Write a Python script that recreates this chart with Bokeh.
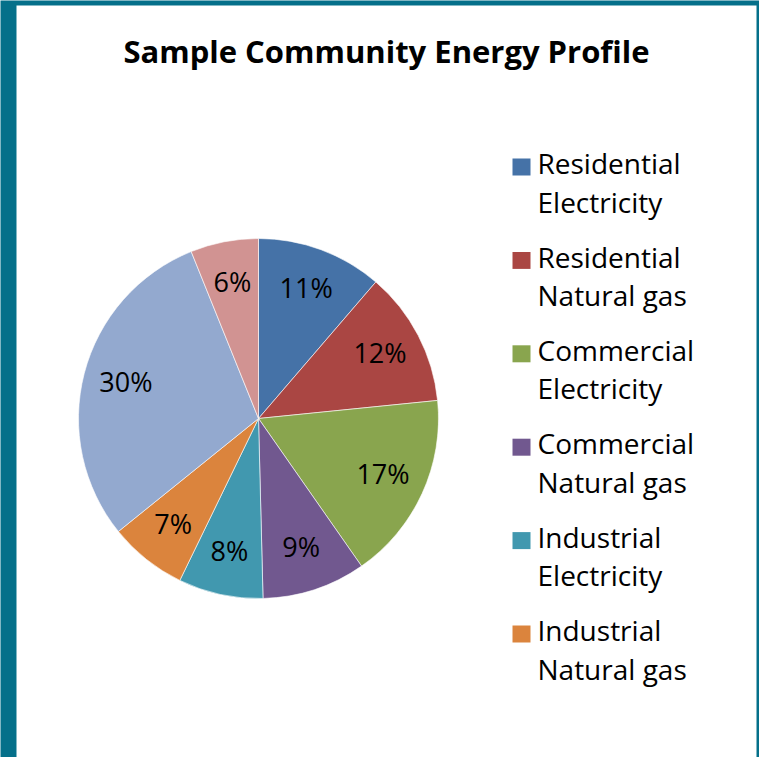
import math
from bokeh.plotting import figure
from bokeh.models import Range1d, ColumnDataSource
from bokeh.core.properties import value
from bokeh.embed import file_html
from bokeh.resources import INLINE

# ---- data ----
title = "Sample Community Energy Profile"
categories = ["Residential Electricity", "Residential Natural gas",
              "Commercial Electricity", "Commercial Natural gas",
              "Industrial Electricity", "Industrial Natural gas",
              "Transportation", "Waste"]
shares = [11.3, 12.1, 16.9, 9.3, 7.6, 7.0, 29.7, 6.1]
colors = ["#4572A7", "#AA4643", "#89A54E", "#71588F",
          "#4198AF", "#DB843D", "#93A9CF", "#D19392"]
legend_count = 6  # only the first six entries fit in the legend box

W, H = 759, 757
FONT = "Open Sans"
TEAL = "#05708A"

p = figure(width=W, height=H, output_backend="svg", toolbar_location=None,
           x_range=Range1d(0, W), y_range=Range1d(0, H), min_border=0)
p.axis.visible = False
p.grid.visible = False
p.outline_line_color = None
p.background_fill_color = TEAL
p.border_fill_color = TEAL

def py(y_page):
    return H - y_page

def base(y_page, size):
    # compensate for where the svg backend puts the alphabetic baseline
    return py(y_page - 0.44 * size)

# white panel
p.quad(left=[16], right=[756], bottom=[0], top=[py(5)], fill_color="white",
       line_color=None)

# pie
cx, cy, r = 258, py(418), 180
LS = 27
total = float(sum(shares))
starts, ends, lx, ly, labels = [], [], [], [], []
cum = 0.0
for s in shares:
    a0 = math.pi / 2 - 2 * math.pi * cum / total
    a1 = math.pi / 2 - 2 * math.pi * (cum + s) / total
    mid = (a0 + a1) / 2
    starts.append(a0)
    ends.append(a1)
    lx.append(cx + 137 * math.cos(mid))
    ly.append(cy + 137 * math.sin(mid) - 9.5 + 0.44 * LS)
    labels.append(f"{round(100 * s / total)}%")
    cum += s

src = ColumnDataSource(dict(start=starts, end=ends, color=colors,
                            lx=lx, ly=ly, label=labels))
p.wedge(x=cx, y=cy, radius=r, start_angle="start", end_angle="end",
        direction="clock", fill_color="color", line_color="white",
        line_width=0.6, source=src)
p.text(x="lx", y="ly", text="label", source=src, text_align="center",
       text_baseline="alphabetic", text_font=value(FONT),
       text_font_size=f"{LS}px", text_color="black")

# legend
FS = 28
lsq_x, lsq_y = [], []
t1, t2, t1y, t2y, tx, lcol = [], [], [], [], [], []
for i in range(legend_count):
    b = 175 + 93.4 * i
    lsq_x.append(521)
    lsq_y.append(py(b - 8.5))
    first, rest = categories[i].split(" ", 1)
    t1.append(first)
    t2.append(rest)
    t1y.append(base(b, FS))
    t2y.append(base(b + 38.5, FS))
    tx.append(537)
    lcol.append(colors[i])
p.rect(x=lsq_x, y=lsq_y, width=18, height=17, fill_color=lcol, line_color=None)
p.text(x=tx, y=t1y, text=t1, text_align="left", text_baseline="alphabetic",
       text_font=value(FONT), text_font_size=f"{FS}px", text_color="black")
p.text(x=tx, y=t2y, text=t2, text_align="left", text_baseline="alphabetic",
       text_font=value(FONT), text_font_size=f"{FS}px", text_color="black")

# title
TS = 31
p.text(x=[386], y=[base(64, TS)], text=[title], text_align="center",
       text_baseline="alphabetic", text_font=value(FONT),
       text_font_style="bold", text_font_size=f"{TS}px", text_color="black")

open("out.html", "w").write(file_html(p, INLINE))
